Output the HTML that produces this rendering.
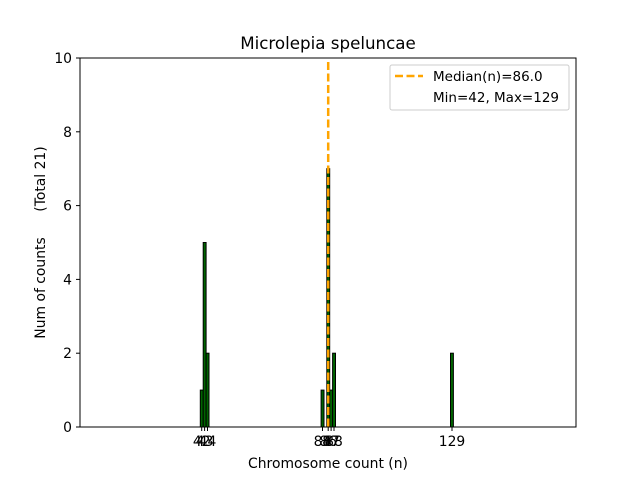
<!DOCTYPE html>
<html><head><style>body{margin:0;background:#fff}</style></head><body>
<svg width="640" height="480" xmlns="http://www.w3.org/2000/svg" font-family="DejaVu Sans, Liberation Sans, sans-serif">
<rect width="640" height="480" fill="#fff"/>
<text x="328" y="49" font-size="16.7" text-anchor="middle">Microlepia speluncae</text>
<g fill="#006400" stroke="#000" stroke-width="1">
<rect x="200.3" y="390.1" width="2.9" height="36.9"/>
<rect x="203.2" y="242.5" width="2.9" height="184.5"/>
<rect x="206.1" y="353.2" width="2.9" height="73.8"/>
<rect x="321.1" y="390.1" width="2.9" height="36.9"/>
<rect x="326.8" y="168.7" width="2.9" height="258.3"/>
<rect x="329.7" y="390.1" width="2.9" height="36.9"/>
<rect x="332.6" y="353.2" width="2.9" height="73.8"/>
<rect x="450.5" y="353.2" width="2.9" height="73.8"/>
</g>
<line x1="328.2" y1="62" x2="328.2" y2="427" stroke="#FFA500" stroke-width="2.5" stroke-dasharray="8,3.5"/>
<rect x="80" y="58" width="496" height="369" fill="none" stroke="#000" stroke-width="1"/>
<g stroke="#000">
<line x1="76" y1="427" x2="80" y2="427"/><line x1="76" y1="353.2" x2="80" y2="353.2"/><line x1="76" y1="279.4" x2="80" y2="279.4"/><line x1="76" y1="205.6" x2="80" y2="205.6"/><line x1="76" y1="131.8" x2="80" y2="131.8"/><line x1="76" y1="58" x2="80" y2="58"/>
<line x1="201.7" y1="427" x2="201.7" y2="431"/><line x1="204.6" y1="427" x2="204.6" y2="431"/><line x1="207.5" y1="427" x2="207.5" y2="431"/>
<line x1="322.5" y1="427" x2="322.5" y2="431"/><line x1="328.2" y1="427" x2="328.2" y2="431"/><line x1="331.1" y1="427" x2="331.1" y2="431"/><line x1="334" y1="427" x2="334" y2="431"/><line x1="452" y1="427" x2="452" y2="431"/>
</g>
<g font-size="13.9" text-anchor="end">
<text x="72" y="432">0</text><text x="72" y="358.2">2</text><text x="72" y="284.4">4</text><text x="72" y="210.6">6</text><text x="72" y="136.8">8</text><text x="72" y="63">10</text>
</g>
<g font-size="13.9" text-anchor="middle">
<text x="201.7" y="446">42</text><text x="204.6" y="446">43</text><text x="207.5" y="446">44</text>
<text x="322.5" y="446">84</text><text x="328.2" y="446">86</text><text x="331.1" y="446">87</text><text x="334" y="446">88</text>
<text x="452" y="446">129</text>
</g>
<text x="328" y="468" font-size="13.9" text-anchor="middle">Chromosome count (n)</text>
<text transform="translate(45,288) rotate(-90)" font-size="13.9" text-anchor="middle">Num of counts</text>
<text transform="translate(45,179) rotate(-90)" font-size="13.9" text-anchor="middle">(Total 21)</text>
<rect x="390" y="65" width="179" height="45" fill="#fff" stroke="#ccc" rx="2"/>
<line x1="395" y1="76" x2="423" y2="76" stroke="#FFA500" stroke-width="2.5" stroke-dasharray="8,3.5"/>
<text x="433" y="81" font-size="13.5">Median(n)=86.0</text>
<text x="433" y="102" font-size="13.5">Min=42, Max=129</text>
</svg>
</body></html>
